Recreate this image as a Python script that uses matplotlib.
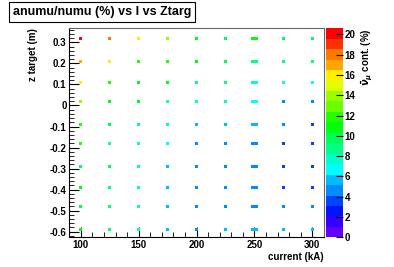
import colorsys
import numpy as np
import matplotlib
matplotlib.use('Agg')
import matplotlib.pyplot as plt
from matplotlib.colors import ListedColormap, BoundaryNorm
from matplotlib.ticker import MultipleLocator, FuncFormatter

current = [100, 125, 150, 175, 200, 225, 250, 275, 300]
ztarg = [0.32, 0.21, 0.11, 0.02, -0.09, -0.18, -0.29, -0.39, -0.48, -0.59]
# anumu/numu ratio (%), rows follow ztarg, columns follow current
ratio = [
    [20.6, 18.0, 15.9, 13.9, 11.2, 9.8, 10.8, 9.8, 9.8],
    [17.0, 15.9, 12.3, 11.8, 10.8, 9.3, 8.8, 8.8, 8.8],
    [15.9, 11.8, 10.8, 10.8, 8.8, 8.8, 7.7, 6.7, 6.7],
    [13.9, 10.8, 10.8, 7.7, 7.7, 7.7, 6.2, 4.6, 4.6],
    [11.8, 9.8, 8.3, 7.7, 5.7, 5.7, 5.7, 4.6, 3.6],
    [11.8, 7.7, 7.7, 7.2, 4.6, 4.6, 4.6, 3.6, 3.6],
    [9.8, 9.3, 7.7, 5.7, 4.6, 4.6, 4.6, 3.6, 3.6],
    [10.8, 8.3, 7.7, 5.7, 4.6, 4.6, 4.6, 4.1, 3.6],
    [9.8, 8.3, 7.7, 5.7, 4.6, 4.6, 4.6, 4.6, 4.6],
    [10.8, 8.3, 7.7, 5.7, 4.6, 5.2, 5.2, 5.7, 5.7],
]
zmax = 20.6
ncont = 20

# ROOT "pretty" palette, 50 colours, 20 contours picked from it
pal = []
for i in range(50):
    hue = 280 - (i + 1) * 5.6
    pal.append(colorsys.hls_to_rgb(hue / 360.0, 0.5, 1.0))
cols = [pal[int((j + 0.99) * 50 / ncont)] for j in range(ncont)]
cmap = ListedColormap(cols)
levels = np.linspace(0, zmax, ncont + 1)
norm = BoundaryNorm(levels, cmap.N)

plt.rcParams['font.family'] = ['Liberation Sans', 'DejaVu Sans']
plt.rcParams['font.weight'] = 'bold'

fig = plt.figure(figsize=(3.94, 2.67), dpi=100)
ax = fig.add_axes([0.176, 0.111, 0.646, 0.783])
cax = fig.add_axes([0.827, 0.111, 0.044, 0.783])

X, Y = np.meshgrid(current, ztarg)
R = np.array(ratio)
sq = (X != 250)
ax.scatter(X[sq], Y[sq], c=R[sq], cmap=cmap, norm=norm, marker='s', s=4.5, linewidths=0, zorder=3)
wide = [(-2.5, -1), (2.5, -1), (2.5, 1), (-2.5, 1), (-2.5, -1)]
ax.scatter(X[~sq], Y[~sq], c=R[~sq], cmap=cmap, norm=norm, marker=wide, s=30, linewidths=0, zorder=3)

ax.set_xlim(90, 310)
ax.set_ylim(-0.627, 0.367)
ax.xaxis.set_major_locator(MultipleLocator(50))
ax.xaxis.set_minor_locator(MultipleLocator(10))
ax.yaxis.set_major_locator(MultipleLocator(0.1))
ax.yaxis.set_minor_locator(MultipleLocator(0.02))
ax.yaxis.set_major_formatter(FuncFormatter(lambda v, p: '0' if abs(v) < 1e-9 else ('%.1f' % v)))
ax.tick_params(which='major', direction='in', length=7, width=0.8, labelsize=7, pad=2, top=False, right=False)
ax.tick_params(which='minor', direction='in', length=3.5, width=0.6, top=False, right=False)
for s in ['top', 'right']:
    ax.spines[s].set_color('#666666')
ax.set_xlabel('current (kA)', fontsize=7, fontweight='bold', loc='right', labelpad=1)
fig.text(33 / 394, 1 - 28 / 267, 'z target (m)', rotation=90, fontsize=7,
         fontweight='bold', ha='center', va='top')

cax.pcolormesh([0, 1], levels, np.array(levels[:-1]).reshape(-1, 1) + 0.01, cmap=cmap, norm=norm)
cax.set_xlim(0, 1)
cax.set_ylim(0, zmax)
cax.set_xticks([])
cax.yaxis.tick_right()
cax.set_yticks(np.arange(0, 21, 2))
cax.tick_params(axis='y', direction='in', length=5, width=0.8, labelsize=7, pad=1)
for s in cax.spines.values():
    s.set_visible(False)
fig.text(367 / 394, 1 - 28 / 267, r'$\bar{\nu}_{\mu}$ cont. (%)', rotation=90, fontsize=7,
         fontweight='bold', ha='center', va='top')

fig.text(102 / 394, 1 - 12 / 267, 'anumu/numu (%) vs I vs Ztarg', fontsize=9,
         fontweight='bold', ha='center', va='center',
         bbox=dict(boxstyle='square,pad=0.3', fc='white', ec='black', lw=0.8))

fig.savefig('out.png', dpi=100)
